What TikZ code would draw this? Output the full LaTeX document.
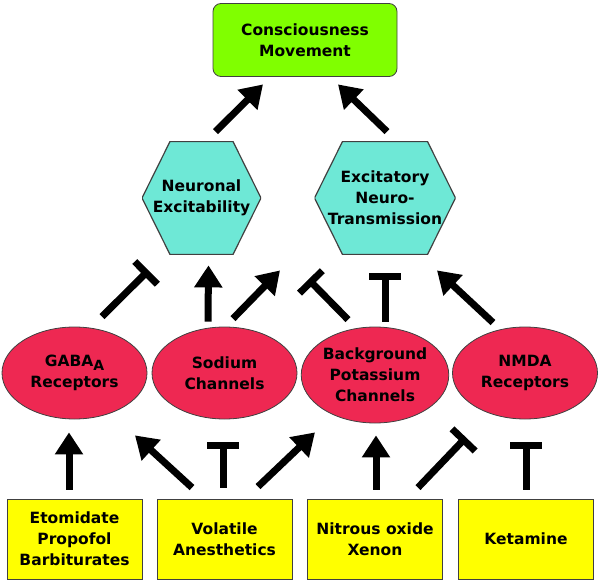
\documentclass[tikz,border=0pt]{standalone}
\usepackage{fontspec}
\setmainfont{DejaVu Sans}
\usetikzlibrary{arrows.meta,shapes.geometric}
\definecolor{limegreen}{RGB}{128,255,0}
\definecolor{hexcyan}{RGB}{110,232,214}
\definecolor{ovalred}{RGB}{238,40,82}
\definecolor{boxyellow}{RGB}{255,255,0}
\tikzset{
  every node/.style={font=\bfseries\fontsize{15.5}{21}\selectfont,align=center,draw=black!75,line width=0.8pt},
  goal/.style={rectangle,rounded corners=8pt,fill=limegreen,minimum width=184pt,minimum height=73pt},
  hexa/.style={rectangle,draw=none,minimum height=113pt,inner sep=1pt,
    path picture={\filldraw[fill=hexcyan,draw=black!75,line width=1.2pt]
      (path picture bounding box.west) -- ([xshift=28pt]path picture bounding box.north west)
      -- ([xshift=-28pt]path picture bounding box.north east) -- (path picture bounding box.east)
      -- ([xshift=-28pt]path picture bounding box.south east) -- ([xshift=28pt]path picture bounding box.south west) -- cycle;}},
  oval/.style={ellipse,fill=ovalred,minimum width=145pt,minimum height=92pt,inner sep=0pt},
  drug/.style={rectangle,fill=boxyellow,minimum width=135pt,minimum height=80pt},
  act/.style={line width=7pt,-{Triangle[length=22pt,width=27pt]}},
  inh/.style={line width=7pt,-{Bar[width=32pt]}}
}
\begin{document}
\begin{tikzpicture}[x=1pt,y=-1pt]
\useasboundingbox (0,0) rectangle (600,583);
% top
\node[goal] (top) at (305,40) {Consciousness\\Movement};
% hexagons
\node[hexa,minimum width=119pt] (neur) at (201.5,198) {Neuronal\\Excitability};
\node[hexa,minimum width=141pt] (exci) at (385,198) {Excitatory\\Neuro-\\Transmission};
% targets
\node[oval] (gaba) at (74.5,373) {GABA\raisebox{-0.5ex}{\fontsize{14}{14}\selectfont A}\\Receptors};
\node[oval] (sod) at (224.5,373) {Sodium\\Channels};
\node[oval,minimum height=96pt] (bkg) at (375,375) {Background\\Potassium\\Channels};
\node[oval] (nmda) at (525,373) {NMDA\\Receptors};
% drugs
\node[drug] (etom) at (74.5,539) {Etomidate\\Propofol\\Barbiturates};
\node[drug] (vola) at (224.5,539) {Volatile\\Anesthetics};
\node[drug] (nitr) at (375,539) {Nitrous oxide\\Xenon};
\node[drug] (keta) at (526,539) {Ketamine};
% hexagons -> top
\draw[act] ([shift={(14,-9.5)}]neur.north) -- ([shift={(-42,7.5)}]top.south);
\draw[act] ([shift={(2,-9.5)}]exci.north) -- ([shift={(33,7.5)}]top.south);
% targets -> hexagons
\draw[inh] ([shift={(27.5,-10)}]gaba.north) -- ([shift={(-53,15.5)}]neur.south);
\draw[act] ([shift={(-16.5,-5)}]sod.north) -- ([shift={(7,10.5)}]neur.south);
\draw[act] ([shift={(8.5,-8)}]sod.north) -- ([shift={(-105,15.5)}]exci.south);
\draw[inh] ([shift={(-27,-7)}]bkg.north) -- ([shift={(107,24.5)}]neur.south);
\draw[inh] ([shift={(10,-5)}]bkg.north) -- ([shift={(0,18.5)}]exci.south);
\draw[act] ([shift={(-32,-4)}]nmda.north) -- ([shift={(52,15.5)}]exci.south);
% drugs -> targets
\draw[act] ([shift={(-5.5,-9)}]etom.north) -- ([shift={(-5.5,13)}]gaba.south);
\draw[act] ([shift={(-32.5,-11)}]vola.north) -- ([shift={(60.5,16)}]gaba.south);
\draw[inh] ([shift={(-1.5,-11)}]vola.north) -- ([shift={(-1.5,23)}]sod.south);
\draw[act] ([shift={(33.5,-12)}]vola.north) -- ([shift={(-60,9)}]bkg.south);
\draw[act] ([shift={(1,-9)}]nitr.north) -- ([shift={(1,12)}]bkg.south);
\draw[inh] ([shift={(43,-11)}]nitr.north) -- ([shift={(-59,18)}]nmda.south);
\draw[inh] ([shift={(0,-9)}]keta.north) -- ([shift={(1,23)}]nmda.south);
\end{tikzpicture}
\end{document}
